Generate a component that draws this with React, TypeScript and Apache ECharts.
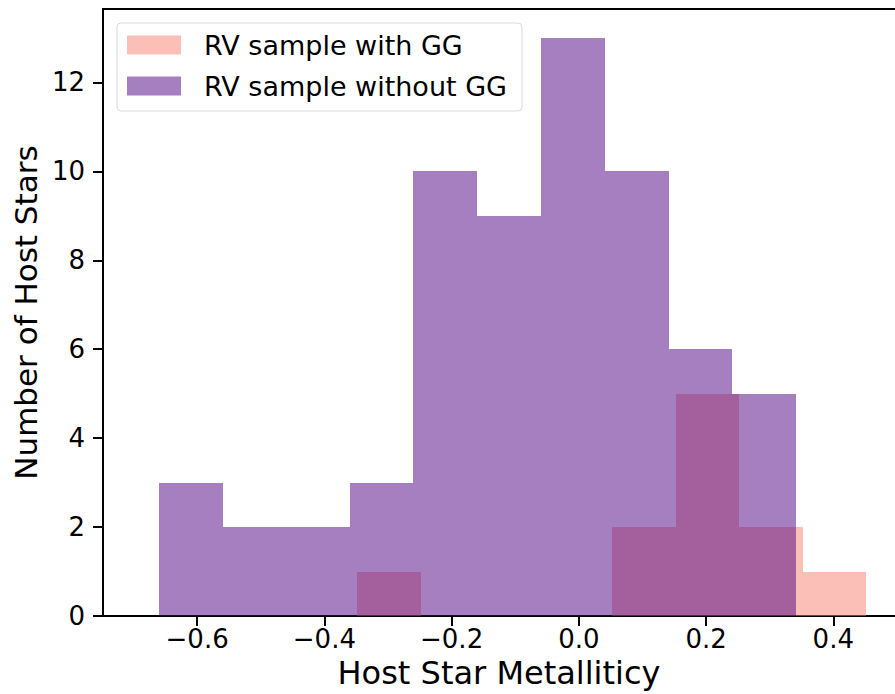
import React, { useEffect, useRef } from "react";
import * as echarts from "echarts";

// Histogram bin edges and counts
const withGGEdges = [-0.348, -0.248, -0.148, -0.048, 0.052, 0.152, 0.252, 0.352, 0.451];
const withGGCounts = [1, 0, 0, 0, 2, 5, 2, 1];
const withoutGGEdges = [-0.66, -0.56, -0.46, -0.36, -0.26, -0.16, -0.059, 0.041, 0.141, 0.241, 0.341];
const withoutGGCounts = [3, 2, 2, 3, 10, 9, 13, 10, 6, 5];

const xTicks = [-0.6, -0.4, -0.2, 0, 0.2, 0.4];
const yTicks = [0, 2, 4, 6, 8, 10, 12];
const seriesNames = ["RV sample with GG", "RV sample without GG"];
const xTitle = "Host Star Metalliticy";
const yTitle = "Number of Host Stars";

const FONT = "DejaVu Sans";
const PINK = "rgba(250,128,114,0.5)";
const PURPLE = "rgba(75,0,130,0.5)";

function binsToData(edges: number[], counts: number[]) {
  return counts.map((c, i) => [edges[i], edges[i + 1], c]);
}

function makeRender(color: string) {
  return (_params: any, api: any) => {
    const lo = api.value(0);
    const hi = api.value(1);
    const c = api.value(2);
    if (!c) return null;
    const p0 = api.coord([lo, 0]);
    const p1 = api.coord([hi, c]);
    const x0 = Math.round(p0[0]);
    const x1 = Math.round(p1[0]);
    const y0 = Math.round(p0[1]);
    const y1 = Math.round(p1[1]);
    return {
      type: "rect",
      shape: { x: x0, y: y1, width: x1 - x0, height: y0 - y1 },
      style: { fill: color },
    };
  };
}

const fmt = (v: number) => {
  const s = Math.abs(v) < 1e-9 ? "0.0" : v.toFixed(1);
  return s.replace("-", "\u2212");
};

export default function App() {
  const ref = useRef<HTMLDivElement>(null);
  useEffect(() => {
    if (!ref.current) return;
    const chart = echarts.init(ref.current, undefined, { renderer: "svg" });
    const xMin = -0.748;
    const xMax = 0.497;
    chart.setOption({
      animation: false,
      backgroundColor: "#fff",
      grid: { left: 103, right: 0, top: 9, bottom: 75 },
      legend: {
        left: 117,
        top: 23,
        orient: "vertical",
        icon: "rect",
        itemWidth: 54,
        itemHeight: 19,
        itemGap: 11,
        padding: [7, 15, 10, 10],
        backgroundColor: "rgba(255,255,255,0.8)",
        borderColor: "#d9d9d9",
        borderWidth: 1,
        borderRadius: 4,
        textStyle: {
          fontFamily: FONT,
          fontSize: 27,
          color: "#000",
          lineHeight: 30,
          padding: [0, 0, 0, 18],
        },
        data: seriesNames,
      },
      xAxis: [
        {
          type: "value",
          min: xMin,
          max: xMax,
          position: "bottom",
          axisLine: { show: true, onZero: false, lineStyle: { color: "#000", width: 2 } },
          axisTick: { show: true, length: 10, customValues: xTicks, lineStyle: { color: "#000", width: 2 } },
          axisLabel: {
            customValues: xTicks,
            formatter: fmt,
            fontFamily: FONT,
            fontSize: 26,
            color: "#000",
            margin: 10,
          },
          splitLine: { show: false },
          name: xTitle,
          nameLocation: "middle",
          nameGap: 40,
          nameTextStyle: { fontFamily: FONT, fontSize: 32, color: "#000" },
        },
        {
          type: "value",
          min: xMin,
          max: xMax,
          position: "top",
          axisLine: { show: true, onZero: false, lineStyle: { color: "#000", width: 2 } },
          axisTick: { show: false },
          axisLabel: { show: false },
          splitLine: { show: false },
        },
      ],
      yAxis: {
        type: "value",
        min: 0,
        max: 13.65,
        position: "left",
        axisLine: { show: true, onZero: false, lineStyle: { color: "#000", width: 2 } },
        axisTick: { show: true, length: 10, customValues: yTicks, lineStyle: { color: "#000", width: 2 } },
        axisLabel: {
          customValues: yTicks,
          fontFamily: FONT,
          fontSize: 26,
          color: "#000",
          margin: 18,
        },
        splitLine: { show: false },
        name: yTitle,
        nameLocation: "middle",
        nameGap: 60,
        nameTextStyle: { fontFamily: FONT, fontSize: 31, color: "#000" },
      },
      series: [
        {
          name: seriesNames[0],
          type: "custom",
          coordinateSystem: "cartesian2d",
          xAxisIndex: 0,
          itemStyle: { color: PINK },
          encode: { x: [0, 1], y: 2 },
          renderItem: makeRender(PINK),
          data: binsToData(withGGEdges, withGGCounts),
        },
        {
          name: seriesNames[1],
          type: "custom",
          coordinateSystem: "cartesian2d",
          xAxisIndex: 0,
          itemStyle: { color: PURPLE },
          encode: { x: [0, 1], y: 2 },
          renderItem: makeRender(PURPLE),
          data: binsToData(withoutGGEdges, withoutGGCounts),
        },
      ],
    });
    return () => chart.dispose();
  }, []);
  return (
    <div
      ref={ref}
      style={{ position: "fixed", left: 0, top: 0, width: 895, height: 694 }}
    />
  );
}
